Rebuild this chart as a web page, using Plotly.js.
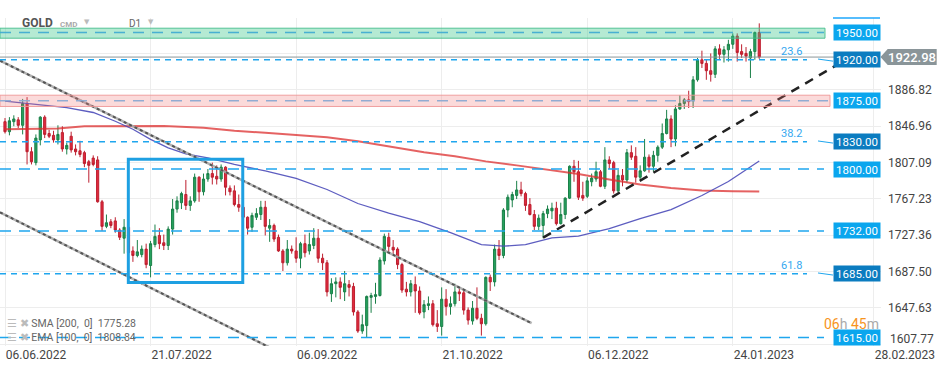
<!DOCTYPE html>
<html><head><meta charset="utf-8">
<script src="https://cdn.plot.ly/plotly-3.0.1.min.js"></script>
<style>html,body{margin:0;padding:0;background:#fff;}#chart{width:949px;height:370px;}</style>
</head><body><div id="chart"></div>
<script>
// ---- Daily GOLD candles (index 0 = 06.06.2022, last = 02.02.2023) ----
const openP  = [1852,1841,1852,1854,1848,1872,1819,1807,1832,1857,1839,1837,1832,1840,1822,1836,1822,1820,1818,1808,
                1812,1810,1764,1737,1742,1743,1733,1724,1736,1710,1705,1706,1712,1694,1717,1727,1719,1716,1734,1756,
                1763,1772,1760,1765,1791,1775,1789,1795,1792,1789,1802,1779,1776,1761,1758,1747,1736,1747,1750,1758,
                1735,1738,1725,1710,1697,1712,1710,1702,1718,1710,1716,1724,1702,1697,1663,1674,1676,1665,1673,1671,
                1643,1622,1628,1659,1660,1661,1699,1725,1714,1712,1695,1668,1665,1673,1666,1643,1650,1652,1630,1627,
                1657,1649,1652,1665,1664,1645,1633,1647,1636,1630,1681,1676,1712,1705,1755,1766,1771,1777,1773,1761,
                1750,1737,1738,1751,1754,1757,1740,1750,1768,1803,1797,1771,1770,1786,1789,1797,1781,1810,1807,1776,
                1793,1788,1818,1814,1791,1798,1813,1803,1815,1824,1839,1855,1833,1866,1872,1876,1875,1898,1920,1916,
                1908,1904,1932,1926,1931,1937,1946,1929,1927,1922,1929,1950];
const highP  = [1856,1857,1859,1857,1877,1879,1824,1838,1858,1859,1843,1842,1848,1847,1829,1841,1827,1831,1820,1810,
                1815,1814,1766,1750,1745,1747,1735,1745,1740,1715,1722,1716,1718,1721,1739,1735,1728,1737,1767,1770,
                1775,1788,1770,1795,1792,1795,1800,1807,1804,1805,1803,1782,1782,1772,1760,1748,1752,1757,1765,1765,
                1745,1740,1728,1712,1722,1716,1725,1720,1728,1730,1735,1734,1707,1700,1680,1681,1681,1688,1678,1675,
                1645,1640,1661,1664,1675,1703,1729,1730,1722,1714,1697,1676,1678,1682,1671,1656,1660,1656,1645,1670,
                1668,1660,1674,1669,1668,1648,1655,1670,1641,1682,1684,1717,1722,1757,1772,1775,1787,1786,1775,1768,
                1755,1750,1754,1760,1763,1764,1763,1769,1804,1810,1809,1786,1791,1795,1808,1799,1824,1814,1809,1799,
                1800,1822,1826,1824,1804,1833,1816,1820,1826,1850,1865,1859,1870,1881,1878,1886,1902,1922,1930,1920,
                1927,1935,1937,1935,1942,1949,1949,1937,1934,1932,1951,1960];
const lowP   = [1839,1837,1847,1845,1838,1805,1805,1804,1826,1834,1834,1829,1827,1819,1816,1818,1815,1813,1802,1785,
                1803,1763,1732,1735,1735,1730,1722,1707,1697,1698,1703,1703,1691,1681,1714,1712,1711,1711,1728,1752,
                1756,1755,1754,1763,1764,1771,1786,1783,1783,1786,1771,1771,1759,1753,1745,1728,1731,1744,1744,1727,
                1720,1720,1709,1688,1694,1707,1697,1691,1703,1706,1712,1697,1689,1660,1654,1659,1657,1655,1660,1639,
                1620,1619,1615,1642,1652,1660,1695,1708,1706,1690,1664,1660,1660,1642,1640,1636,1645,1627,1621,1617,
                1639,1640,1649,1655,1640,1629,1629,1634,1617,1628,1666,1671,1700,1702,1747,1758,1767,1770,1754,1749,
                1733,1733,1724,1746,1745,1738,1739,1745,1767,1786,1766,1765,1768,1781,1786,1780,1778,1800,1773,1774,
                1781,1785,1810,1785,1789,1797,1796,1797,1808,1822,1838,1824,1825,1865,1866,1867,1867,1896,1911,1898,
                1896,1900,1921,1917,1918,1932,1918,1922,1918,1900,1920,1921];
const closeP = [1841,1853,1855,1848,1872,1819,1808,1834,1857,1838,1836,1832,1838,1822,1826,1821,1819,1816,1806,1804,
                1805,1764,1737,1741,1738,1733,1725,1736,1708,1705,1709,1712,1695,1718,1726,1718,1716,1734,1756,1765,
                1773,1760,1765,1791,1775,1789,1795,1791,1789,1802,1780,1775,1761,1758,1747,1735,1749,1751,1758,1737,
                1738,1723,1710,1697,1712,1710,1702,1718,1708,1717,1724,1702,1697,1665,1674,1676,1670,1674,1670,1643,
                1622,1629,1660,1661,1662,1700,1726,1715,1711,1695,1667,1665,1674,1666,1642,1651,1652,1629,1627,1657,
                1649,1652,1665,1663,1645,1634,1647,1636,1630,1681,1676,1712,1705,1755,1769,1772,1777,1773,1760,1750,
                1737,1746,1751,1756,1757,1740,1750,1768,1803,1797,1769,1768,1787,1790,1797,1781,1810,1806,1776,1793,
                1788,1818,1813,1791,1798,1813,1803,1815,1824,1839,1855,1833,1866,1872,1876,1874,1898,1920,1916,1908,
                1904,1932,1926,1931,1937,1946,1928,1926,1924,1929,1950,1922.98];

// Moving averages (bar index, value)
const smaIdx = [0,12,18,27,36,45,52,59,66,73,80,88,95,102,109,116,123,130,137,144,151,158,165,171];
const smaVal = [1843.7,1844.4,1847,1847.3,1847.3,1845.3,1842,1839.8,1837.6,1834.8,1830.4,1823.8,1818.3,1813.9,1808.4,1804,1799.6,1794.6,1788.5,1783,1779.2,1776.4,1775.6,1775.28];
const emaIdx = [0,7,14,20,25,29,33,37,41,46,52,59,66,73,80,87,94,101,108,113,118,124,130,137,144,151,158,164,171];
const emaVal = [1874.5,1871.2,1867.4,1862.1,1852.5,1843.7,1832.6,1823.3,1816.7,1812.2,1805.1,1797.9,1789.6,1777.5,1762.1,1751.6,1742.3,1730.1,1716.9,1715.2,1716.9,1724.3,1726.3,1734.5,1745.6,1755.5,1770.9,1786.3,1808.84];

// Axis ticks
const tickIdx   = [0,33,66,99,132,165,197];
const tickDates = ['06.06.2022','21.07.2022','06.09.2022','21.10.2022','06.12.2022','24.01.2023','28.02.2023'];
const priceTicks = [1607.77,1647.63,1687.50,1727.36,1767.23,1807.09,1846.96,1886.82,1926.69];

// Levels and drawings
const levels     = [1950,1920,1875,1830,1800,1732,1685,1615];
const levelIsFib = [false,true,false,true,false,false,true,false];
const fibLevels  = [1920,1830,1685];
const fibTexts   = ['23.6','38.2','61.8'];
const greenZone  = [1943.7,1954.7];
const pinkZone   = [1868.7,1881.1];
const lastPrice  = 1922.98;
const smaLast = 1775.28, emaLast = 1808.84;
const channelUpperIdx = [-1.134,119.4], channelUpperVal = [1919.0,1630.6];
const channelLowerIdx = [-1.134,60.2],  channelLowerVal = [1752.4,1603.5];
const trendIdx = [122.0,189.7], trendVal = [1724.6,1917.5];
const boxIdx = [27.96,53.9], boxVal = [1675.3,1810.6];

const barIdx = openP.map((_, i) => i);
const W = 881;                         // plot width in px
const px = x => x / W;                 // pixel -> paper x
const py = y => 1 - (y - 18) / 328;    // pixel -> paper y

const traces = [
  {type:'scatter', mode:'lines', x:smaIdx, y:smaVal, line:{color:'rgba(220,45,45,0.75)', width:2}, hoverinfo:'skip'},
  {type:'scatter', mode:'lines', x:emaIdx, y:emaVal, line:{color:'rgba(75,75,185,0.9)', width:1.3}, hoverinfo:'skip'},
  {type:'candlestick', x:barIdx, open:openP, high:highP, low:lowP, close:closeP,
   increasing:{line:{color:'#1b8049', width:1}, fillcolor:'#25a15d'},
   decreasing:{line:{color:'#bd1f2f', width:1}, fillcolor:'#e02a3d'},
   whiskerwidth:0, hoverinfo:'skip'},
  {type:'scatter', mode:'lines', x:channelUpperIdx, y:channelUpperVal, line:{color:'rgba(170,170,170,0.9)', width:2.5}, hoverinfo:'skip'},
  {type:'scatter', mode:'lines', x:channelUpperIdx, y:channelUpperVal, line:{color:'#555', width:2, dash:'3px,3px'}, hoverinfo:'skip'},
  {type:'scatter', mode:'lines', x:channelLowerIdx, y:channelLowerVal, line:{color:'rgba(170,170,170,0.9)', width:2.5}, hoverinfo:'skip'},
  {type:'scatter', mode:'lines', x:channelLowerIdx, y:channelLowerVal, line:{color:'#555', width:2, dash:'3px,3px'}, hoverinfo:'skip'},
  {type:'scatter', mode:'lines', x:trendIdx, y:trendVal, line:{color:'#222', width:2.5, dash:'9px,7px'}, hoverinfo:'skip'}
];

const shapes = [];
// zones
shapes.push({type:'rect', layer:'above', xref:'paper', yref:'y', x0:0, x1:px(825), y0:greenZone[0], y1:greenZone[1],
  fillcolor:'rgba(60,200,140,0.38)', line:{color:'rgba(70,190,140,0.9)', width:1}});
shapes.push({type:'rect', layer:'above', xref:'paper', yref:'y', x0:0, x1:px(830), y0:pinkZone[0], y1:pinkZone[1],
  fillcolor:'rgba(240,120,120,0.27)', line:{color:'rgba(238,150,150,0.9)', width:1}});
// current price line
shapes.push({type:'line', layer:'above', xref:'paper', yref:'y', x0:0, x1:px(880), y0:lastPrice, y1:lastPrice,
  line:{color:'#8a9599', width:1}});
// level lines
levels.forEach((lv, k) => {
  const fib = levelIsFib[k];
  let col = '#1fa6ee';
  if (lv === 1950) col = 'rgba(60,170,210,0.9)';
  if (lv === 1875) col = 'rgba(140,170,210,0.95)';
  const end = fib ? 807 : (lv === 1875 ? 828 : 824);
  shapes.push({type:'line', layer:'above', xref:'paper', yref:'y', x0:0, x1:px(end), y0:lv, y1:lv,
    line:{color:col, width:1.5, dash: fib ? '6px,5px' : '11px,8px'}});
  if (fib) {
    shapes.push({type:'line', layer:'above', xref:'paper', yref:'y', x0:px(818), x1:px(833), y0:lv+0.8, y1:lv-1.5,
      line:{color:'#1fa6ee', width:1}});
  }
});
// rectangle drawing
shapes.push({type:'rect', layer:'above', xref:'x', yref:'y', x0:boxIdx[0], x1:boxIdx[1], y0:boxVal[0], y1:boxVal[1],
  line:{color:'#1ea0e2', width:3}, fillcolor:'rgba(0,0,0,0)'});
// top clipped label edge
shapes.push({type:'line', layer:'above', xref:'paper', yref:'paper', x0:px(833), x1:px(880), y0:1, y1:1,
  line:{color:'#1ea7fd', width:1.5}});
// price tag
const tT = lastPrice + 8.8, tB = lastPrice - 8.8;
shapes.push({type:'path', layer:'above', xref:'paper', yref:'y',
  path:`M ${px(880.5)},${lastPrice} L ${px(887.7)},${tT} L ${px(936.7)},${tT} L ${px(936.7)},${tB} L ${px(887.7)},${tB} Z`,
  fillcolor:'#8a9599', line:{width:0}});

const annotations = [];
levels.forEach((lv, k) => {
  annotations.push({xref:'paper', yref:'y', x:px(856.7), y:lv, text:lv.toFixed(2), showarrow:false,
    font:{family:'Roboto, Arial', size:11.5, color:'#fff'}, bgcolor: levelIsFib[k] ? '#0b7cc0' : '#0aa6ee',
    width:44, height:13, borderpad:1, xanchor:'center', yanchor:'middle'});
});
fibLevels.forEach((lv, k) => {
  annotations.push({xref:'paper', yref:'y', x:px(791), y:lv, yshift:8, text:fibTexts[k], showarrow:false,
    font:{family:'Roboto, Arial', size:11, color:'#35a8f0'}, xanchor:'center', yanchor:'middle'});
});
annotations.push({xref:'paper', yref:'y', x:px(912.2), y:lastPrice, text:lastPrice.toFixed(2), showarrow:false,
  font:{family:'Roboto, Arial', size:13, color:'#fff', weight:500}, xanchor:'center', yanchor:'middle'});
// lowest price tick label sits a little higher than its gridline
annotations.push({xref:'paper', yref:'y', x:px(888), y:priceTicks[0], yshift:5, text:priceTicks[0].toFixed(2), showarrow:false,
  font:{family:'Roboto, Arial', size:12, color:'#444'}, xanchor:'left', yanchor:'middle'});
// header
annotations.push({xref:'paper', yref:'paper', x:px(20), y:py(23), text:'<b>GOLD</b>', showarrow:false, xanchor:'left', yanchor:'middle',
  font:{family:'Roboto, Arial', size:12, color:'#555'}});
annotations.push({xref:'paper', yref:'paper', x:px(58), y:py(24), text:'<b>CMD</b>', showarrow:false, xanchor:'left', yanchor:'middle',
  font:{family:'Roboto, Arial', size:8, color:'#aaa'}});
annotations.push({xref:'paper', yref:'paper', x:px(86.5), y:py(22), text:'▼', showarrow:false, xanchor:'center', yanchor:'middle',
  font:{family:'DejaVu Sans', size:7, color:'#bbb'}});
annotations.push({xref:'paper', yref:'paper', x:px(127), y:py(23), text:'D1', showarrow:false, xanchor:'left', yanchor:'middle',
  font:{family:'Roboto, Arial', size:10, color:'#666'}});
annotations.push({xref:'paper', yref:'paper', x:px(151), y:py(22), text:'▼', showarrow:false, xanchor:'center', yanchor:'middle',
  font:{family:'DejaVu Sans', size:7, color:'#bbb'}});
// indicator legend
annotations.push({xref:'paper', yref:'paper', x:px(5), y:py(323), text:'<span style="color:#bbb">☰ ✖</span> SMA [200,  0]  ' + smaLast.toFixed(2),
  showarrow:false, xanchor:'left', yanchor:'middle', font:{family:'Roboto, Arial', size:10.5, color:'#666'}});
annotations.push({xref:'paper', yref:'paper', x:px(5), y:py(337), text:'<span style="color:#bbb">☰ ✖</span> EMA [100,  0]  ' + emaLast.toFixed(2),
  showarrow:false, xanchor:'left', yanchor:'middle', font:{family:'Roboto, Arial', size:10.5, color:'#666'}});
// candle timer
annotations.push({xref:'paper', yref:'paper', x:px(851.5), y:py(324),
  text:'<span style="color:#f7941d">06</span><span style="color:#aaa">h</span> <span style="color:#f7941d">45</span><span style="color:#aaa">m</span>',
  showarrow:false, xanchor:'center', yanchor:'middle', font:{family:'Roboto, Arial', size:14, color:'#f7941d'}});

const layout = {
  width:949, height:370,
  margin:{l:0, r:949 - W, t:18, b:24, pad:0},
  paper_bgcolor:'#fff', plot_bgcolor:'#fff',
  showlegend:false,
  xaxis:{range:[-1.134, 198.6], tickvals:tickIdx, ticktext:tickDates, showgrid:true, gridcolor:'#ededed',
    zeroline:false, showline:false, ticks:'', ticklabelshift:31, ticklabelstandoff:0,
    tickfont:{family:'Roboto, Arial', size:12, color:'#444'}, rangeslider:{visible:false}, fixedrange:true},
  yaxis:{side:'right', range:[1605.57, 1965.9], tickvals:priceTicks,
    ticktext:priceTicks.map((v, i) => (i === 0 || i === priceTicks.length - 1) ? '' : v.toFixed(2)),
    showgrid:true, gridcolor:'#ededed', zeroline:false, showline:false, ticks:'', ticklabelstandoff:6,
    tickfont:{family:'Roboto, Arial', size:12, color:'#444'}, fixedrange:true},
  shapes:shapes,
  annotations:annotations
};

Plotly.newPlot('chart', traces, layout, {staticPlot:true, displayModeBar:false});
</script>
</body></html>
